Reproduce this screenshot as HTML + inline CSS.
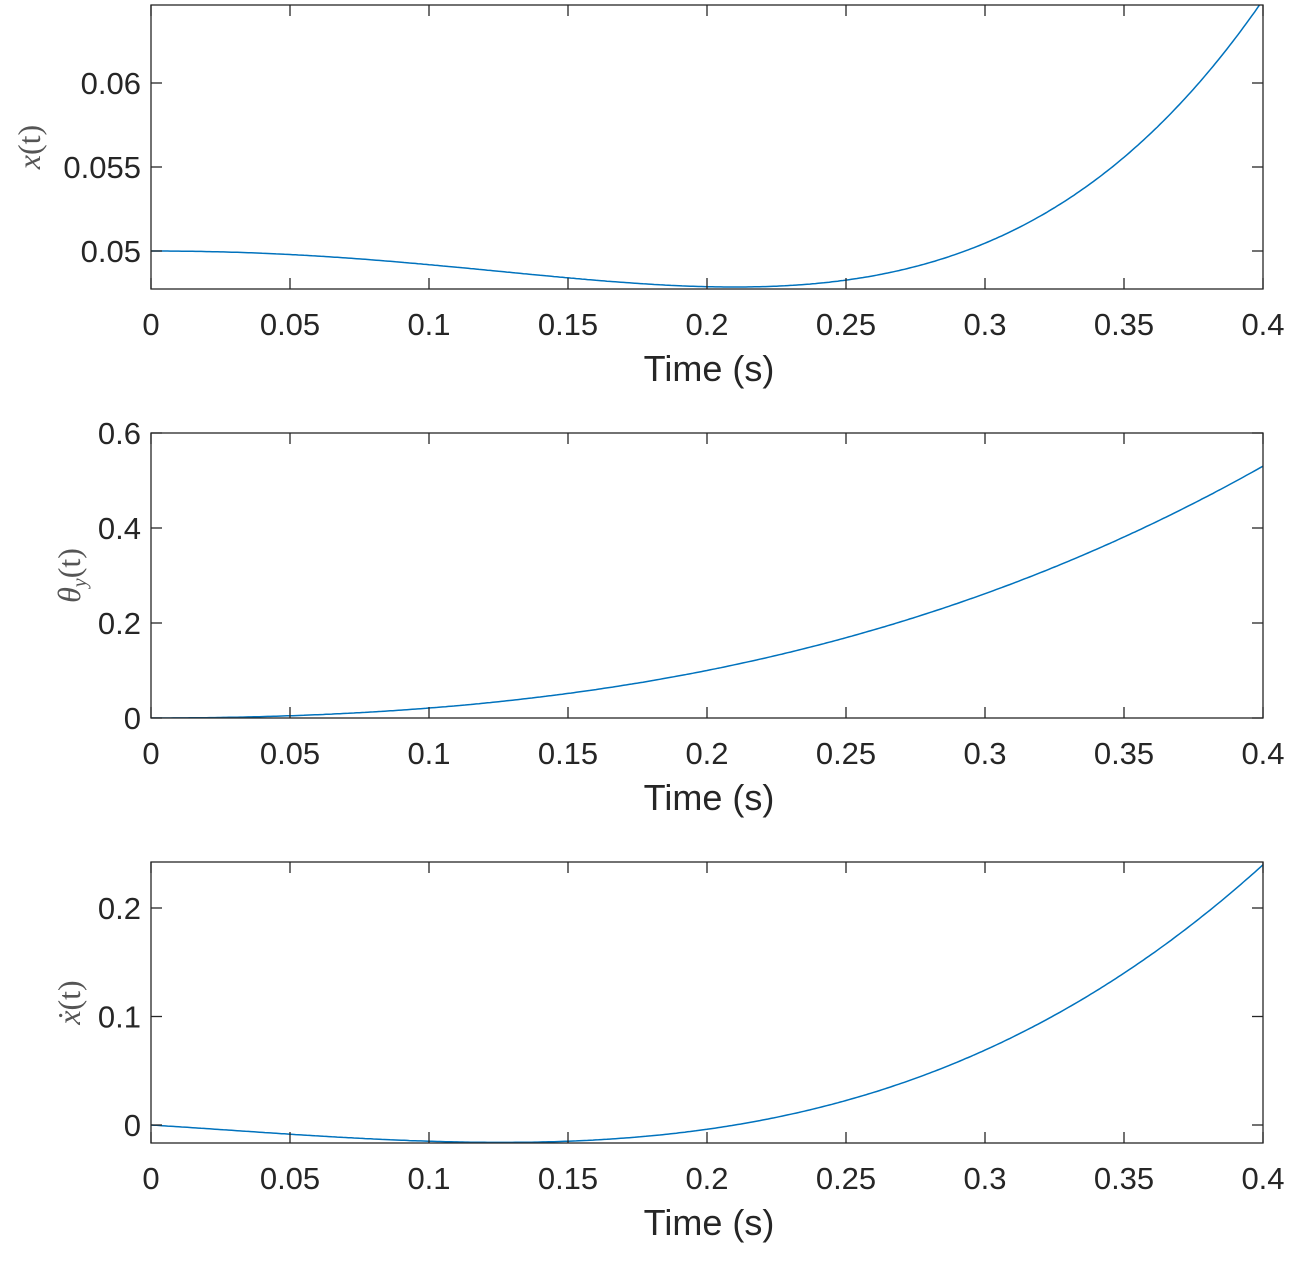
<!DOCTYPE html>
<html><head><style>
body{margin:0;background:#fff;}
svg text{font-family:"Liberation Sans",sans-serif;fill:#262626;}
</style></head><body>
<svg id="s" width="1296" height="1264" xmlns="http://www.w3.org/2000/svg"></svg>
<script>
const s=document.getElementById('s');
const L=151,R=1263;
function X(t){return L+(R-L)*t/0.4;}
const v=t=>5.99*t**3-0.498*t*t-0.1596*t;
const xp=t=>0.05+1.4975*t**4-0.166*t**3-0.0798*t*t;
const th=t=>1.69*t*t+4.06*t**3;
const plots=[
 {top:5,bot:289,y0:0.05,p0:251,y1:0.06,p1:83,ticks:[[0.05,'0.05'],[0.055,'0.055'],[0.06,'0.06']],f:xp,lab:'<tspan font-style="italic">x</tspan>(t)',lx:32},
 {top:433,bot:718,y0:0,p0:718,y1:0.6,p1:433,ticks:[[0,'0'],[0.2,'0.2'],[0.4,'0.4'],[0.6,'0.6']],f:th,lab:'<tspan font-style="italic">θ</tspan><tspan font-style="italic" font-size="20" dy="6">y</tspan><tspan dy="-6">(t)</tspan>',lx:72},
 {top:862,bot:1143,y0:0,p0:1125,y1:0.2,p1:908,ticks:[[0,'0'],[0.1,'0.1'],[0.2,'0.2']],f:v,lab:'<tspan font-style="italic">ẋ</tspan>(t)',lx:72}
];
let h='';
for(const p of plots){
 const Y=y=>p.p0+(p.p1-p.p0)*(y-p.y0)/(p.y1-p.y0);
 let pts=[];
 for(let i=0;i<=400;i++){const t=i*0.001;pts.push(X(t).toFixed(1)+','+Y(p.f(t)).toFixed(1));}
 h+=`<defs><clipPath id="c${p.top}"><rect x="${L}" y="${p.top}" width="${R-L}" height="${p.bot-p.top}"/></clipPath></defs>`;
 h+=`<polyline points="${pts.join(' ')}" fill="none" stroke="#0072bd" stroke-width="1.5" clip-path="url(#c${p.top})"/>`;
 h+=`<rect x="${L}" y="${p.top}" width="${R-L}" height="${p.bot-p.top}" fill="none" stroke="#262626" stroke-width="1.3"/>`;
 for(let i=0;i<=8;i++){const x=L+(R-L)*i/8;
  h+=`<line x1="${x}" y1="${p.bot}" x2="${x}" y2="${p.bot-11}" stroke="#262626" stroke-width="1.3"/><line x1="${x}" y1="${p.top}" x2="${x}" y2="${p.top+11}" stroke="#262626" stroke-width="1.3"/>`;
  const lbl=['0','0.05','0.1','0.15','0.2','0.25','0.3','0.35','0.4'][i];
  h+=`<text x="${x}" y="${p.bot+46}" font-size="31" text-anchor="middle">${lbl}</text>`;}
 for(const [val,lbl] of p.ticks){const y=Y(val);
  h+=`<line x1="${L}" y1="${y}" x2="${L+11}" y2="${y}" stroke="#262626" stroke-width="1.3"/><line x1="${R}" y1="${y}" x2="${R-11}" y2="${y}" stroke="#262626" stroke-width="1.3"/>`;
  h+=`<text x="${L-10}" y="${y+11}" font-size="31" text-anchor="end">${lbl}</text>`;}
 h+=`<text x="${(L+R)/2+2}" y="${p.bot+92}" font-size="36" text-anchor="middle">Time (s)</text>`;
 const cy=(p.top+p.bot)/2;
 h+=`<text transform="translate(${p.lx+8},${cy}) rotate(-90)" font-size="32" text-anchor="middle" style="font-family:'Liberation Serif',serif;fill:#555">${p.lab}</text>`;
}
s.innerHTML=h;
</script>
</body></html>
